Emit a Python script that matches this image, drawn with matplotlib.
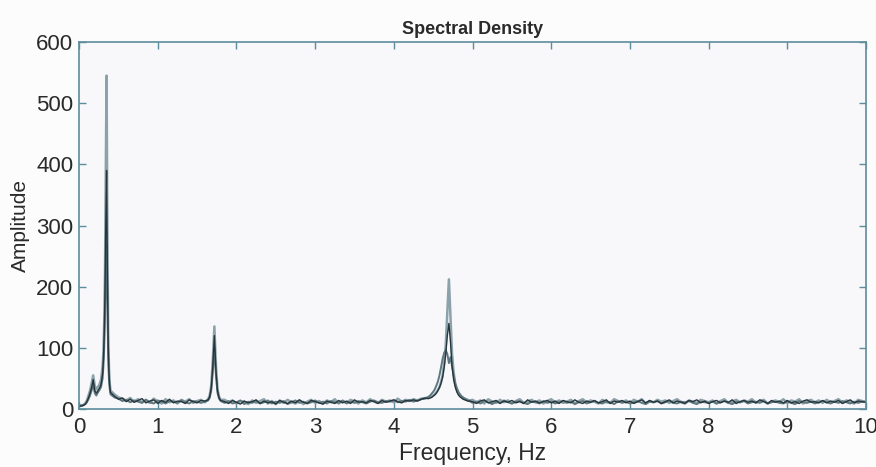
import numpy as np
import matplotlib
matplotlib.use("Agg")
import matplotlib.pyplot as plt

plt.rcParams['font.family'] = ['Liberation Sans', 'DejaVu Sans']

# frequency grid (Hz): finer around the peaks
freq = np.round(np.concatenate([
    np.arange(0.00, 0.301, 0.02),
    np.arange(0.31, 0.401, 0.01),
    np.arange(0.45, 1.601, 0.05),
    np.arange(1.64, 1.801, 0.02),
    np.arange(1.85, 4.401, 0.05),
    np.arange(4.44, 4.961, 0.02),
    np.arange(5.00, 10.001, 0.05),
]), 2)

# amplitudes, three overlaid spectra
amp_light = [
    5, 5, 6, 7, 9, 14, 22, 30, 42, 55, 38, 32, 36, 40, 48, 70,
    95, 140, 220, 380, 545, 300, 130, 70, 42, 30,
    24, 19, 17, 14, 18, 12, 16, 11, 15, 10, 17, 12, 9, 16, 11, 14, 9, 15, 12, 16, 10, 13, 15, 11,
    16, 22, 38, 80, 135, 70, 32, 20, 15,
    15, 11, 14, 9, 13, 12, 8, 14, 10, 13, 16, 9, 13, 8, 14, 10, 15, 11, 9, 14,
    8, 12, 15, 10, 13, 9, 14, 11, 16, 9, 13, 10, 15, 12, 9, 14, 11, 16, 12, 10,
    15, 12, 14, 11, 17, 12, 15, 13, 16, 14, 17, 18,
    18, 19, 20, 22, 24, 27, 31, 36, 44, 55, 75, 105, 160, 212, 150, 90, 60, 42, 33, 27,
    23, 20, 18, 17, 16, 15, 14,
    15, 11, 14, 9, 16, 12, 10, 15, 11, 14, 9, 13, 16, 10, 12, 15, 11, 14, 9, 13,
    16, 11, 14, 10, 12, 15, 9, 13, 16, 11, 14, 12, 9, 15, 11, 10, 16, 13, 11, 14,
    10, 15, 12, 16, 9, 13, 11, 15, 12, 14, 10, 13, 16, 11, 9, 14, 12, 10, 15, 13,
    11, 14, 9, 13, 16, 10, 12, 15, 11, 14, 12, 16, 10, 13, 15, 9, 12, 14, 11, 16,
    10, 14, 12, 16, 9, 13, 15, 11, 14, 10, 15, 11, 13, 16, 10, 14, 12, 9, 15, 13,
    12,
]
amp_mid = [
    5, 6, 6, 7, 8, 11, 16, 22, 30, 40, 26, 22, 27, 31, 36, 50,
    70, 100, 150, 220, 270, 180, 90, 50, 33, 24,
    19, 17, 13, 15, 11, 14, 12, 10, 15, 11, 9, 14, 12, 9, 13, 12, 10, 14, 11, 9, 13, 12, 10, 12,
    14, 18, 30, 60, 100, 55, 26, 17, 13,
    10, 13, 9, 11, 14, 8, 12, 10, 13, 9, 11, 14, 9, 12, 10, 13, 8, 11, 14, 10,
    12, 9, 11, 14, 10, 12, 9, 13, 11, 10, 14, 9, 12, 10, 13, 11, 9, 12, 14, 11,
    10, 13, 12, 14, 11, 13, 12, 15, 12, 14, 16, 17,
    20, 22, 25, 28, 32, 38, 45, 55, 68, 82, 92, 96, 90, 75, 85, 70, 55, 42, 34, 28,
    24, 21, 19, 17, 15, 14, 13,
    10, 12, 9, 13, 11, 8, 12, 10, 14, 11, 9, 12, 13, 10, 8, 12, 11, 9, 13, 10,
    12, 9, 11, 13, 10, 12, 8, 11, 13, 9, 11, 13, 10, 9, 12, 11, 8, 13, 10, 12,
    9, 11, 13, 10, 8, 12, 11, 13, 9, 11, 13, 10, 9, 12, 11, 13, 10, 8, 12, 11,
    10, 12, 9, 11, 13, 10, 8, 12, 11, 13, 9, 11, 12, 10, 13, 9, 11, 12, 10, 9,
    12, 10, 8, 13, 11, 10, 12, 9, 11, 13, 11, 9, 12, 10, 13, 11, 9, 12, 10, 12,
    11,
]
amp_dark = [
    4, 5, 5, 6, 8, 12, 18, 26, 35, 48, 30, 26, 30, 34, 40, 58,
    80, 120, 190, 300, 390, 230, 110, 60, 38, 27,
    21, 16, 18, 12, 16, 11, 14, 17, 10, 13, 15, 9, 14, 11, 16, 10, 13, 12, 9, 15, 12, 10, 14, 13,
    15, 20, 34, 70, 120, 62, 30, 18, 14,
    12, 9, 14, 11, 8, 13, 10, 12, 15, 9, 13, 10, 12, 8, 14, 11, 9, 13, 10, 15,
    11, 9, 14, 12, 10, 8, 13, 11, 9, 14, 10, 13, 9, 15, 11, 12, 10, 14, 12, 9,
    14, 11, 13, 15, 12, 10, 14, 13, 15, 13, 16, 18,
    17, 18, 19, 21, 23, 26, 30, 35, 42, 52, 68, 90, 120, 140, 110, 70, 48, 36, 28, 23,
    20, 18, 16, 15, 14, 13, 13,
    12, 9, 13, 15, 10, 12, 14, 9, 13, 11, 14, 10, 12, 9, 15, 11, 13, 10, 12, 14,
    10, 13, 9, 14, 12, 10, 15, 11, 9, 13, 11, 14, 10, 12, 15, 9, 13, 11, 14, 10,
    13, 9, 12, 15, 10, 14, 11, 13, 9, 12, 15, 10, 13, 11, 9, 14, 12, 15, 10, 13,
    9, 12, 14, 10, 13, 11, 15, 9, 12, 14, 11, 13, 10, 15, 12, 9, 14, 11, 13, 10,
    14, 10, 12, 9, 13, 15, 11, 12, 10, 14, 10, 13, 11, 14, 9, 12, 15, 10, 13, 12,
    11,
]

x_ticks = list(range(0, 11))
y_ticks = [0, 100, 200, 300, 400, 500, 600]

axis_col = '#5d8c9c'
text_col = '#2a2a2a'

fig = plt.figure(figsize=(8.76, 4.67), dpi=100, facecolor='#fcfcfd')
ax = fig.add_axes([0.0902, 0.1242, 0.8984, 0.7858])
ax.set_facecolor('#f8f8fa')

ax.plot(freq, amp_light, color='#8ba2aa', lw=1.8)
ax.plot(freq, amp_mid, color='#5f7780', lw=1.4)
ax.plot(freq, amp_dark, color='#27353b', lw=1.0)

ax.set_xlim(0, 10)
ax.set_ylim(0, 600)
ax.set_xticks(x_ticks)
ax.set_yticks(y_ticks)
ax.tick_params(direction='in', length=5, width=1, colors=axis_col,
               labelcolor=text_col, labelsize=16, top=True, right=True)
ax.tick_params(axis='x', pad=6)
ax.tick_params(axis='y', pad=4)
for s in ax.spines.values():
    s.set_color(axis_col)
    s.set_linewidth(1.2)

ax.set_xlabel('Frequency, Hz', fontsize=16.5, color=text_col, labelpad=3)
ax.set_ylabel('Amplitude', fontsize=15, color=text_col, labelpad=4.5)
ax.set_title('Spectral Density', fontsize=13, fontweight='bold', color=text_col, pad=6)

fig.savefig('out.png', dpi=100, facecolor=fig.get_facecolor())
